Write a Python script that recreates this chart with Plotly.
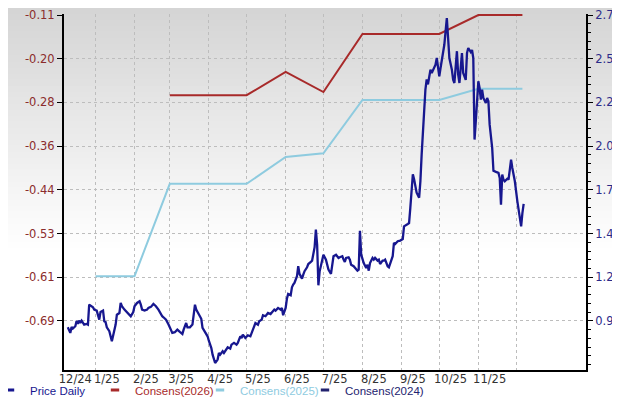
import plotly.graph_objects as go
import pandas as pd

# ---------------- data ----------------
price_dates = [
    "2024-12-10", "2024-12-12", "2024-12-13", "2024-12-14", "2024-12-16", "2024-12-17", "2024-12-18",
    "2024-12-19", "2024-12-20", "2024-12-21", "2024-12-23", "2024-12-25", "2024-12-26", "2024-12-27",
    "2024-12-30", "2024-12-31", "2025-01-02", "2025-01-04", "2025-01-05", "2025-01-07", "2025-01-08",
    "2025-01-09", "2025-01-10", "2025-01-12", "2025-01-14", "2025-01-15", "2025-01-17", "2025-01-18",
    "2025-01-20", "2025-01-21", "2025-01-22", "2025-01-24", "2025-01-26", "2025-01-28", "2025-01-29",
    "2025-01-31", "2025-02-01", "2025-02-03", "2025-02-05", "2025-02-06", "2025-02-07", "2025-02-09",
    "2025-02-11", "2025-02-12", "2025-02-14", "2025-02-16", "2025-02-18", "2025-02-20", "2025-02-21",
    "2025-02-23", "2025-02-24", "2025-02-26", "2025-02-28", "2025-03-02", "2025-03-03", "2025-03-05",
    "2025-03-07", "2025-03-09", "2025-03-11", "2025-03-12", "2025-03-14", "2025-03-15", "2025-03-17",
    "2025-03-19", "2025-03-21", "2025-03-22", "2025-03-24", "2025-03-26", "2025-03-27", "2025-03-29",
    "2025-03-31", "2025-04-01", "2025-04-03", "2025-04-04", "2025-04-05", "2025-04-06", "2025-04-08",
    "2025-04-09", "2025-04-10", "2025-04-12", "2025-04-13", "2025-04-15", "2025-04-16", "2025-04-18",
    "2025-04-19", "2025-04-21", "2025-04-23", "2025-04-24", "2025-04-26", "2025-04-27", "2025-04-28",
    "2025-04-30", "2025-05-02", "2025-05-04", "2025-05-07", "2025-05-08", "2025-05-10", "2025-05-11",
    "2025-05-13", "2025-05-14", "2025-05-16", "2025-05-18", "2025-05-20", "2025-05-22", "2025-05-23",
    "2025-05-24", "2025-05-26", "2025-05-28", "2025-05-29", "2025-05-30", "2025-06-01", "2025-06-02",
    "2025-06-03", "2025-06-05", "2025-06-06", "2025-06-07", "2025-06-08", "2025-06-10", "2025-06-11",
    "2025-06-12", "2025-06-14", "2025-06-15", "2025-06-16", "2025-06-18", "2025-06-19", "2025-06-21",
    "2025-06-22", "2025-06-24", "2025-06-25", "2025-06-26", "2025-06-27", "2025-06-28", "2025-06-30",
    "2025-07-01", "2025-07-03", "2025-07-04", "2025-07-05", "2025-07-07", "2025-07-08", "2025-07-09",
    "2025-07-11", "2025-07-13", "2025-07-14", "2025-07-16", "2025-07-17", "2025-07-18", "2025-07-19",
    "2025-07-21", "2025-07-22", "2025-07-23", "2025-07-25", "2025-07-27", "2025-07-28", "2025-07-29",
    "2025-07-30", "2025-07-31", "2025-08-01", "2025-08-02", "2025-08-04", "2025-08-05", "2025-08-06",
    "2025-08-07", "2025-08-09", "2025-08-10", "2025-08-11", "2025-08-13", "2025-08-14", "2025-08-15",
    "2025-08-17", "2025-08-18", "2025-08-19", "2025-08-21", "2025-08-22", "2025-08-23", "2025-08-25",
    "2025-08-26", "2025-08-27", "2025-08-29", "2025-08-31", "2025-09-02", "2025-09-03", "2025-09-06",
    "2025-09-07", "2025-09-08", "2025-09-10", "2025-09-11", "2025-09-12", "2025-09-13", "2025-09-15",
    "2025-09-16", "2025-09-17", "2025-09-18", "2025-09-19", "2025-09-20", "2025-09-21", "2025-09-22",
    "2025-09-23", "2025-09-24", "2025-09-25", "2025-09-27", "2025-09-28", "2025-09-29", "2025-09-30",
    "2025-10-01", "2025-10-02", "2025-10-03", "2025-10-05", "2025-10-06", "2025-10-07", "2025-10-08",
    "2025-10-09", "2025-10-11", "2025-10-12", "2025-10-13", "2025-10-15", "2025-10-16", "2025-10-17",
    "2025-10-18", "2025-10-19", "2025-10-20", "2025-10-22", "2025-10-23", "2025-10-24", "2025-10-26",
    "2025-10-27", "2025-10-28", "2025-10-29", "2025-10-30", "2025-10-31", "2025-11-01", "2025-11-02",
    "2025-11-03", "2025-11-04", "2025-11-05", "2025-11-07", "2025-11-08", "2025-11-09", "2025-11-10",
    "2025-11-12", "2025-11-13", "2025-11-15", "2025-11-17", "2025-11-18", "2025-11-19", "2025-11-20",
    "2025-11-21", "2025-11-22", "2025-11-24", "2025-11-25", "2025-11-26", "2025-11-27", "2025-11-28",
    "2025-11-30", "2025-12-02", "2025-12-04", "2025-12-05", "2025-12-06", "2025-12-07",
]
price_values = [
    0.863, 0.830, 0.865, 0.855, 0.869, 0.900, 0.883,
    0.902, 0.889, 0.902, 0.879, 0.883, 0.879, 0.996,
    0.981, 0.967, 0.961, 0.908, 0.953, 0.961, 0.898,
    0.894, 0.863, 0.840, 0.781, 0.810, 0.879, 0.937,
    0.947, 1.006, 0.987, 0.967, 0.953, 0.941, 0.928,
    0.953, 0.987, 1.006, 1.016, 0.996, 0.967, 0.961,
    0.967, 0.977, 0.983, 1.000, 0.987, 0.967, 0.953,
    0.928, 0.922, 0.908, 0.879, 0.849, 0.830, 0.834,
    0.849, 0.836, 0.824, 0.849, 0.888, 0.863, 0.863,
    0.879, 0.996, 0.967, 0.937, 0.913, 0.859, 0.830,
    0.810, 0.784, 0.741, 0.702, 0.673, 0.653, 0.673,
    0.712, 0.702, 0.722, 0.712, 0.731, 0.745, 0.737,
    0.761, 0.771, 0.761, 0.771, 0.810, 0.800, 0.820,
    0.800, 0.816, 0.810, 0.869, 0.888, 0.878, 0.898,
    0.908, 0.934, 0.928, 0.947, 0.941, 0.957, 0.967,
    0.961, 0.977, 0.967, 0.977, 0.934, 0.977, 1.031,
    1.059, 1.051, 1.098, 1.114, 1.124, 1.163, 1.222,
    1.177, 1.149, 1.173, 1.193, 1.216, 1.235, 1.247,
    1.255, 1.334, 1.437, 1.349, 1.110, 1.192, 1.247,
    1.290, 1.261, 1.222, 1.202, 1.177, 1.251, 1.281,
    1.290, 1.271, 1.275, 1.281, 1.261, 1.247, 1.271,
    1.275, 1.261, 1.231, 1.222, 1.202, 1.196, 1.202,
    1.431, 1.290, 1.261, 1.241, 1.212, 1.231, 1.196,
    1.241, 1.271, 1.261, 1.271, 1.255, 1.261, 1.235,
    1.255, 1.255, 1.261, 1.222, 1.216, 1.241, 1.281,
    1.359, 1.353, 1.369, 1.373, 1.382, 1.457, 1.471,
    1.476, 1.565, 1.763, 1.734, 1.694, 1.655, 1.625,
    1.723, 1.880, 2.037, 2.154, 2.263, 2.321, 2.292,
    2.335, 2.378, 2.359, 2.388, 2.408, 2.447, 2.398,
    2.339, 2.388, 2.428, 2.525, 2.604, 2.682, 2.565,
    2.447, 2.378, 2.319, 2.300, 2.487, 2.349, 2.300,
    2.388, 2.476, 2.359, 2.318, 2.476, 2.506, 2.482,
    2.494, 2.447, 1.967, 2.075, 2.172, 2.310, 2.271,
    2.202, 2.261, 2.212, 2.182, 2.212, 2.192, 2.055,
    1.918, 1.784, 1.777, 1.771, 1.741, 1.584, 1.761,
    1.731, 1.722, 1.737, 1.731, 1.781, 1.849, 1.800,
    1.722, 1.604, 1.506, 1.457, 1.535, 1.589,
]

cons_dates = [
    "2025-01-01", "2025-02-01", "2025-03-01", "2025-04-01", "2025-05-01", "2025-06-01", "2025-07-01",
    "2025-08-01", "2025-09-01", "2025-10-01", "2025-11-01", "2025-12-01", "2025-12-06",
]
cons_2026 = [None, None, -0.262, -0.262, -0.262, -0.218, -0.256, -0.146, -0.146, -0.146, -0.110, -0.110, -0.110]
cons_2025 = [-0.605, -0.605, -0.430, -0.430, -0.430, -0.379, -0.372, -0.271, -0.271, -0.271, -0.250, -0.250, -0.250]
cons_2024 = []

month_labels = ["12/24", "1/25", "2/25", "3/25", "4/25", "5/25", "6/25", "7/25", "8/25", "9/25", "10/25", "11/25"]
left_tick_labels = ["-0.11", "-0.20", "-0.28", "-0.36", "-0.44", "-0.53", "-0.61", "-0.69"]
right_tick_labels = ["2.7", "2.5", "2.2", "2.0", "1.7", "1.4", "1.2", "0.9"]

# ---------------- style ----------------
W, H = 620, 398
ML, MR, MT, MB = 56, 42, 6, 36
PRICE_C = "#17178f"
C2026 = "#a82a2a"
C2025 = "#8ecbdf"
C2024 = "#22226e"
FONT = "DejaVu Sans"

left_top, left_bot = -0.11, -0.69
right_top, right_bot = 2.7, 0.9
px_per_step = 43.7
step_l = (left_top - left_bot) / 7
step_r = (right_top - right_bot) / 7
ext_bottom = 49 / px_per_step
ext_top = 1 / px_per_step
yl_range = [left_bot - ext_bottom * step_l, left_top + ext_top * step_l]
yr_range = [right_bot - ext_bottom * step_r, right_top + ext_top * step_r]
left_tickvals = [left_top - k * step_l for k in range(8)]
right_tickvals = [right_top - k * step_r for k in range(8)]

fig = go.Figure()

fig.add_trace(go.Scatter(x=cons_dates, y=cons_2025, mode="lines", yaxis="y",
                         line=dict(color=C2025, width=2), showlegend=False, connectgaps=False))
fig.add_trace(go.Scatter(x=cons_dates, y=cons_2026, mode="lines", yaxis="y",
                         line=dict(color=C2026, width=2), showlegend=False, connectgaps=False))
fig.add_trace(go.Scatter(x=price_dates, y=price_values, mode="lines", yaxis="y2",
                         line=dict(color=PRICE_C, width=2.3), showlegend=False))

# legend entries
for name, col in [("Price Daily", PRICE_C), ("Consens(2026)", C2026),
                  ("Consens(2025)", C2025), ("Consens(2024)", C2024)]:
    fig.add_trace(go.Scatter(
        x=[None], y=[None], mode="markers",
        marker=dict(symbol="line-ew", size=6, line=dict(width=3, color=col), color=col),
        name=f'<span style="color:{col}">{name}</span>', showlegend=True))
# invisible spacer entry so the last legend label is not clipped
fig.add_trace(go.Scatter(x=[None], y=[None], mode="markers", name=" ",
                         marker=dict(color="rgba(0,0,0,0)", size=1), showlegend=True,
                         hoverinfo="skip"))

# gradient background bands
plot_h = H - MT - MB
plot_w = W - ML - MR
shapes = []
n_bands = 40
grad_px = 240
for i in range(n_bands):
    y0px = i * grad_px / n_bands
    y1px = (i + 1) * grad_px / n_bands
    t = (i + 0.5) / n_bands
    g = int(round(212 + (255 - 212) * t))
    shapes.append(dict(type="rect", xref="paper", yref="paper",
                       x0=-0.2, x1=1.2,
                       y0=(H - MB - y1px) / plot_h, y1=(H - MB - y0px) / plot_h + 0.001,
                       fillcolor=f"rgb({g},{g},{g})", line=dict(width=0), layer="below"))

month_starts = pd.date_range("2025-01-01", "2025-12-01", freq="MS")
label_pos = [pd.Timestamp("2024-12-16")] + list(pd.date_range("2025-01-01", "2025-11-01", freq="MS") + pd.Timedelta(days=9))

fig.update_layout(
    width=W, height=H,
    margin=dict(l=ML, r=MR, t=MT, b=MB, pad=0, autoexpand=False),
    paper_bgcolor="white",
    plot_bgcolor="rgba(0,0,0,0)",
    shapes=shapes,
    font=dict(family=FONT, size=11, color="#333333"),
    xaxis=dict(
        type="date", automargin=False, tickangle=0, ticklabelstandoff=-3,
        range=["2024-12-07", "2026-01-25 12:00"],
        tickvals=label_pos, ticktext=month_labels,
        showgrid=False, ticks="", zeroline=False,
        showline=True, linecolor="black", linewidth=2,
        tickfont=dict(family=FONT, size=11.5, color="#333333"),
        minor=dict(tickvals=list(month_starts), showgrid=True, griddash="dot",
                   gridcolor="#bdbdbd", gridwidth=1, ticks=""),
    ),
    yaxis=dict(
        automargin=False, ticklabeloverflow="allow",
        range=yl_range, tickvals=left_tickvals, ticktext=left_tick_labels,
        showgrid=True, griddash="dot", gridcolor="#bdbdbd", gridwidth=1,
        zeroline=False, showline=True, linecolor="black", linewidth=2,
        ticks="outside", ticklen=5, tickcolor="black", tickwidth=1,
        tickfont=dict(family=FONT, size=11.5, color="#8b2c2c"),
    ),
    yaxis2=dict(
        automargin=False, ticklabeloverflow="allow",
        range=yr_range, tickvals=right_tickvals, ticktext=right_tick_labels,
        overlaying="y", side="right", showgrid=False, zeroline=False,
        showline=True, linecolor="black", linewidth=2,
        ticks="outside", ticklen=5, tickcolor="black", tickwidth=1,
        tickfont=dict(family=FONT, size=11.5, color="#2b2b8a"),
        minor=dict(tickmode="linear", tick0=right_bot, dtick=step_r / 5,
                   ticks="outside", ticklen=3, tickcolor="black", showgrid=False),
    ),
    legend=dict(
        orientation="h", x=-18 / plot_w - ML / plot_w, xanchor="left",
        y=-(382 - (H - MB)) / plot_h, yanchor="middle",
        entrywidth=60, entrywidthmode="pixels", itemwidth=30,
        font=dict(family="Liberation Sans", size=11.5), bgcolor="rgba(0,0,0,0)",
        tracegroupgap=0,
    ),
)

fig.write_html("out.html")
